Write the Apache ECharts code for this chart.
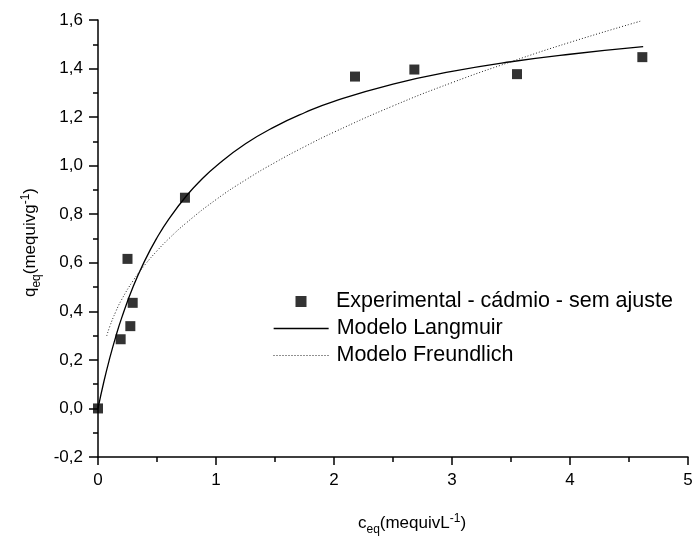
<!DOCTYPE html>
<html><head><meta charset="utf-8">
<script src="https://cdn.jsdelivr.net/npm/echarts@6/dist/echarts.min.js"></script>
<style>html,body{margin:0;padding:0;background:#fff}#c{width:693px;height:536px}</style>
</head><body><div id="c"></div>
<script>
var expC = [0, 0.192, 0.25, 0.274, 0.294, 0.737, 2.178, 2.681, 3.551, 4.613];
var expQ = [0, 0.285, 0.616, 0.339, 0.435, 0.868, 1.367, 1.396, 1.377, 1.447];
var langC = [0, 0.05, 0.1, 0.15, 0.2, 0.3, 0.4, 0.5, 0.6, 0.75, 0.875, 1.0, 1.25, 1.5, 1.75, 2.0, 2.5, 3.0, 3.5, 4.0, 4.62];
var langQ = [0, 0.111, 0.208, 0.295, 0.372, 0.504, 0.612, 0.703, 0.780, 0.876, 0.942, 0.998, 1.090, 1.161, 1.218, 1.265, 1.336, 1.388, 1.428, 1.459, 1.490];
var freC = [0.074, 0.1, 0.15, 0.2, 0.3, 0.4, 0.5, 0.6, 0.75, 1.0, 1.25, 1.5, 1.75, 2.0, 2.5, 3.0, 3.5, 4.0, 4.61];
var freQ = [0.299, 0.338, 0.398, 0.448, 0.528, 0.593, 0.649, 0.699, 0.765, 0.860, 0.941, 1.013, 1.078, 1.138, 1.246, 1.342, 1.428, 1.508, 1.597];
var names = ['Experimental - cádmio - sem ajuste', 'Modelo Langmuir', 'Modelo Freundlich'];

function pairs(a, b) { return a.map(function (v, i) { return [v, b[i]]; }); }
var FONT = 'Liberation Sans, Arial, sans-serif';
var legText = { fontFamily: FONT, fontSize: 21.5, color: '#000', lineHeight: 21 };
function lt(pad) { return Object.assign({}, legText, { padding: [0, 0, 0, pad] }); }
var chart = echarts.init(document.getElementById('c'));
chart.setOption({
  animation: false,
  backgroundColor: '#fff',
  grid: { left: 98, right: 5, top: 20, bottom: 79, containLabel: false, outerBoundsMode: 'none' },
  legend: [
    { data: [names[0]], left: 295.5, top: 290.5, padding: 0, icon: 'rect', itemWidth: 11, itemHeight: 11,
      textStyle: lt(24.5) },
    { data: [names[1]], left: 273, top: 317.5, padding: 0, itemWidth: 55, itemHeight: 14,
      itemStyle: { opacity: 0 }, lineStyle: { color: '#000', width: 1.3 }, textStyle: lt(3) },
    { data: [names[2]], left: 273, top: 344.5, padding: 0, itemWidth: 55, itemHeight: 14,
      itemStyle: { opacity: 0 }, lineStyle: { color: '#222', width: 1, type: [1, 2] }, textStyle: lt(3) }
  ],
  xAxis: {
    type: 'value', min: 0, max: 5, interval: 1,
    axisLine: { show: true, onZero: false, lineStyle: { color: '#000', width: 1.5 } },
    axisTick: { show: true, inside: false, length: 8, lineStyle: { color: '#000', width: 1.5 } },
    minorTick: { show: true, splitNumber: 2, length: 5, lineStyle: { color: '#000', width: 1.5 } },
    splitLine: { show: false },
    axisLabel: { color: '#000', fontFamily: FONT, fontSize: 17, margin: 15 },
    name: '{a|c}{b|eq}{a|(mequivL}{c|-1}{a|)}',
    nameLocation: 'middle', nameGap: 54,
    nameTextStyle: { padding: [0, 0, 0, 38], rich: {
      a: { fontFamily: FONT, fontSize: 17, color: '#000' },
      b: { fontFamily: FONT, fontSize: 12, color: '#000', padding: [13, 0, 0, 0] },
      c: { fontFamily: FONT, fontSize: 12, color: '#000', padding: [0, 0, 10, 0] }
    } }
  },
  yAxis: {
    type: 'value', min: -0.2, max: 1.6, interval: 0.2,
    axisLine: { show: true, onZero: false, lineStyle: { color: '#000', width: 1.5 } },
    axisTick: { show: true, inside: false, length: 9, lineStyle: { color: '#000', width: 1.5 } },
    minorTick: { show: true, splitNumber: 2, length: 5, lineStyle: { color: '#000', width: 1.5 } },
    splitLine: { show: false },
    axisLabel: { color: '#000', fontFamily: FONT, fontSize: 17, margin: 15,
      formatter: function (v) { return v.toFixed(1).replace('.', ','); } },
    name: '{a|q}{b|eq}{a|(mequivg}{c|-1}{a|)}',
    nameLocation: 'middle', nameGap: 55, nameRotate: 90,
    nameTextStyle: { padding: [0, 8, 0, 0], rich: {
      a: { fontFamily: FONT, fontSize: 17, color: '#000' },
      b: { fontFamily: FONT, fontSize: 12, color: '#000', padding: [13, 0, 0, 0] },
      c: { fontFamily: FONT, fontSize: 12, color: '#000', padding: [0, 0, 10, 0] }
    } }
  },
  series: [
    { name: names[0], type: 'scatter', data: pairs(expC, expQ), symbol: 'rect', symbolSize: 10,
      itemStyle: { color: '#000' }, z: 5 },
    { name: names[1], type: 'line', data: pairs(langC, langQ), smooth: true, symbol: 'none', showSymbol: false,
      lineStyle: { color: '#000', width: 1.3 }, itemStyle: { color: '#000' } },
    { name: names[2], type: 'line', data: pairs(freC, freQ), smooth: true, symbol: 'none', showSymbol: false,
      lineStyle: { color: '#222', width: 1, type: [1, 2] }, itemStyle: { color: '#222' } }
  ]
});
</script></body></html>
